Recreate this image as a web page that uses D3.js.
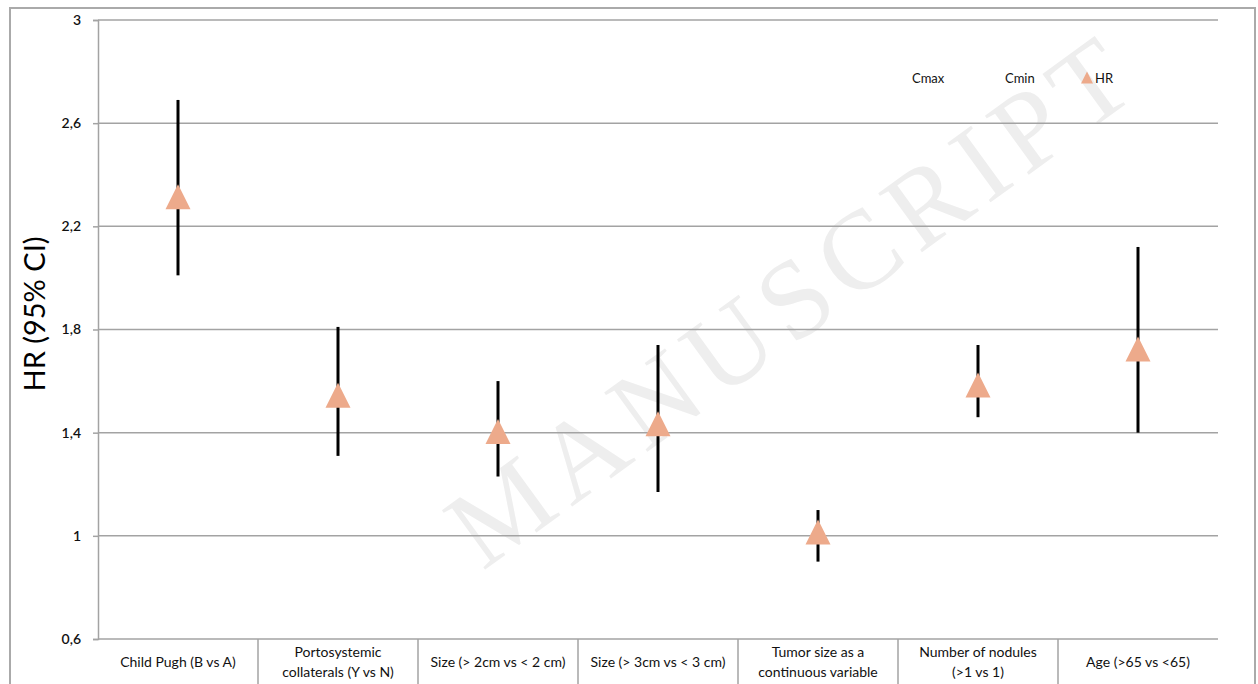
<!DOCTYPE html>
<html><head><meta charset="utf-8">
<script src="https://cdn.jsdelivr.net/npm/d3@7"></script>
<style>html,body{margin:0;padding:0;background:#fff;}svg{display:block;}</style>
</head><body>
<div id="chart"></div>
<script>
const categories = [
  ["Child Pugh (B vs A)"],
  ["Portosystemic", "collaterals (Y vs N)"],
  ["Size (> 2cm vs < 2 cm)"],
  ["Size (> 3cm vs < 3 cm)"],
  ["Tumor size as a", "continuous variable"],
  ["Number of nodules", "(>1 vs 1)"],
  ["Age (>65 vs <65)"]
];
const hr   = [2.31, 1.54, 1.40, 1.43, 1.01, 1.58, 1.72];
const cmax = [2.69, 1.81, 1.60, 1.74, 1.10, 1.74, 2.12];
const cmin = [2.01, 1.31, 1.23, 1.17, 0.90, 1.46, 1.40];
const yTicks = [0.6, 1, 1.4, 1.8, 2.2, 2.6, 3];
const yTickLabels = ["0,6", "1", "1,4", "1,8", "2,2", "2,6", "3"];
const legendItems = ["Cmax", "Cmin", "HR"];

const W = 1258, H = 684;
const svg = d3.select("#chart").append("svg").attr("width", W).attr("height", H);
const font = "Lato, 'Open Sans', sans-serif";
const gridCol = "#a3a3a3";
const triCol = "#EDAA8B";

const x = d3.scaleBand().domain(d3.range(categories.length)).range([98, 1218]).padding(0);
const y = d3.scaleLinear().domain([0.6, 3]).range([639, 20]);

// watermark
svg.append("text")
  .attr("transform", "translate(815,330) rotate(-36)")
  .attr("text-anchor", "middle")
  .attr("font-family", "'Liberation Serif', 'DejaVu Serif', serif")
  .attr("font-size", 112)
  .attr("fill", "#eeeeee")
  .attr("letter-spacing", 10)
  .text("MANUSCRIPT");

// outer frame
svg.append("path").attr("d", `M10,${H} V8 H1255 V${H}`)
  .attr("fill", "none").attr("stroke", "#aaaaaa").attr("stroke-width", 2);

// y axis with gridlines
const yAxis = d3.axisLeft(y).tickValues(yTicks)
  .tickFormat((d, i) => yTickLabels[i]).tickSize(5).tickPadding(12);
const gy = svg.append("g").attr("transform", "translate(98,0)").call(yAxis);
gy.select(".domain").attr("stroke", gridCol).attr("stroke-width", 1.5);
gy.selectAll(".tick line").attr("stroke", gridCol).attr("stroke-width", 1.5);
gy.selectAll(".tick text").attr("font-family", font).attr("font-size", 14)
  .attr("font-weight", 600).attr("fill", "#111");

svg.append("g").selectAll("line").data(yTicks).join("line")
  .attr("x1", 98).attr("x2", 1218)
  .attr("y1", d => y(d)).attr("y2", d => y(d))
  .attr("stroke", gridCol).attr("stroke-width", 1.5);

// y title
svg.append("text")
  .attr("transform", `translate(45,314) rotate(-90)`)
  .attr("text-anchor", "middle")
  .attr("font-family", font).attr("font-size", 29).attr("fill", "#000")
  .text("HR (95% CI)");

// category separators
svg.append("g").selectAll("line").data(d3.range(1, categories.length)).join("line")
  .attr("x1", d => x(d)).attr("x2", d => x(d))
  .attr("y1", y(0.6)).attr("y2", H)
  .attr("stroke", gridCol).attr("stroke-width", 1.5);

// category labels
const lab = svg.append("g").selectAll("text").data(categories).join("text")
  .attr("text-anchor", "middle")
  .attr("font-family", font).attr("font-size", 14).attr("fill", "#111");
lab.each(function(lines, i) {
  const t = d3.select(this);
  const cx = x(i) + x.bandwidth() / 2;
  const base = lines.length === 1 ? 667 : 657;
  lines.forEach((l, k) => {
    t.append("tspan").attr("x", cx).attr("y", base + k * 20).text(l);
  });
});

// error bars
svg.append("g").selectAll("line").data(hr).join("line")
  .attr("x1", (d, i) => x(i) + x.bandwidth() / 2)
  .attr("x2", (d, i) => x(i) + x.bandwidth() / 2)
  .attr("y1", (d, i) => y(cmax[i]))
  .attr("y2", (d, i) => y(cmin[i]))
  .attr("stroke", "#000").attr("stroke-width", 3);

// HR triangles
const tri = (s) => `M0,${-s * 0.55} L${s / 2},${s * 0.45} L${-s / 2},${s * 0.45} Z`;
svg.append("g").selectAll("path").data(hr).join("path")
  .attr("transform", (d, i) => `translate(${x(i) + x.bandwidth() / 2},${y(d)})`)
  .attr("d", tri(25))
  .attr("fill", triCol);

// legend
const lg = svg.append("g").attr("font-family", font).attr("font-size", 13).attr("fill", "#111");
lg.append("text").attr("x", 912).attr("y", 83).text(legendItems[0]);
lg.append("text").attr("x", 1005).attr("y", 83).text(legendItems[1]);
lg.append("path").attr("transform", "translate(1087,78)").attr("d", tri(12)).attr("fill", triCol);
lg.append("text").attr("x", 1095).attr("y", 83).text(legendItems[2]);
</script>
</body></html>
